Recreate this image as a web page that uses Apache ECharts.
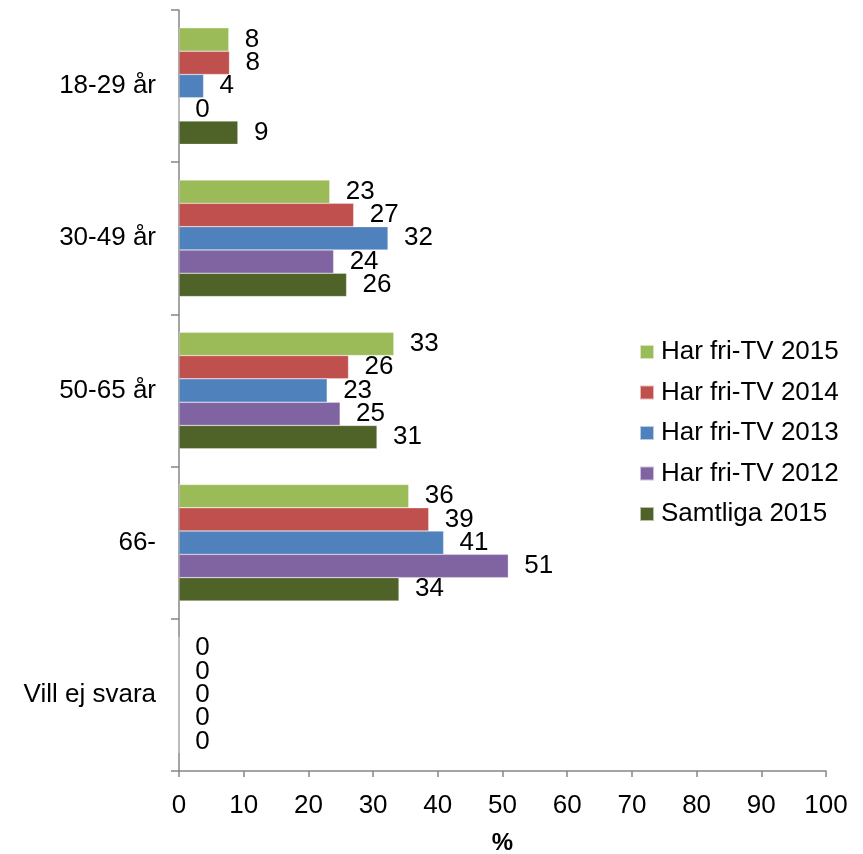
<!DOCTYPE html>
<html>
<head>
<meta charset="utf-8">
<script src="https://cdn.jsdelivr.net/npm/echarts@6/dist/echarts.min.js"></script>
<style>
    html, body { margin: 0; padding: 0; background: #fff; }
    #chart { width: 863px; height: 854px; }
</style>
</head>
<body>
<div id="chart"></div>
<script>
const categories = ['18-29 år', '30-49 år', '50-65 år', '66-', 'Vill ej svara']
const seriesNames = ['Har fri-TV 2015', 'Har fri-TV 2014', 'Har fri-TV 2013', 'Har fri-TV 2012', 'Samtliga 2015']
const fri2015 = [7.7, 23.3, 33.2, 35.5, 0]
const fri2014 = [7.8, 27.0, 26.2, 38.6, 0]
const fri2013 = [3.8, 32.3, 22.9, 40.9, 0]
const fri2012 = [0, 23.9, 24.9, 50.9, 0]
const samtliga2015 = [9.1, 25.9, 30.6, 34.0, 0]
const colors = ['#9BBB59', '#C0504D', '#4F81BD', '#8064A2', '#4F6228']

const font = 'Liberation Sans, Arial, sans-serif'
const fs = 26

const chart = echarts.init(document.querySelector('#chart'))

const makeSeries = (name, data, i) => ({
    name,
    type: 'bar',
    data,
    barWidth: 23.3,
    barGap: '0%',
    itemStyle: { color: colors[i], borderColor: 'rgba(255,255,255,0.6)', borderWidth: 0.5 },
    label: {
        show: true,
        position: 'right',
        distance: 16,
        color: '#000',
        fontSize: fs,
        fontFamily: font,
        formatter: p => Math.round(p.value)
    }
})

const option = {
    backgroundColor: '#fff',
    animation: false,
    grid: { left: 179, right: 37, top: 10, bottom: 83, outerBoundsMode: 'none' },
    legend: {
        orient: 'vertical',
        left: 639,
        top: 339,
        padding: 0,
        itemWidth: 14,
        itemHeight: 14,
        itemGap: 14.5,
        icon: 'rect',
        textStyle: { color: '#000', fontSize: fs, fontFamily: font, lineHeight: 26, padding: [0, 0, 0, 2] },
        data: seriesNames
    },
    xAxis: {
        type: 'value',
        min: 0,
        max: 100,
        interval: 10,
        name: '%',
        nameLocation: 'middle',
        nameGap: 60,
        nameTextStyle: { color: '#000', fontSize: 24, fontWeight: 'bold', fontFamily: font },
        axisLine: { show: true, lineStyle: { color: '#868686', width: 1.5 } },
        axisTick: { show: true, length: 6, lineStyle: { color: '#868686', width: 1.5 } },
        axisLabel: { color: '#000', fontSize: fs, fontFamily: font, margin: 22 },
        splitLine: { show: false }
    },
    yAxis: {
        type: 'category',
        inverse: true,
        data: categories,
        axisLine: { show: true, lineStyle: { color: '#868686', width: 1.5 } },
        axisTick: { show: true, length: 8, lineStyle: { color: '#868686', width: 1.5 } },
        axisLabel: { color: '#000', fontSize: fs, fontFamily: font, margin: 23 }
    },
    series: [
        makeSeries(seriesNames[0], fri2015, 0),
        makeSeries(seriesNames[1], fri2014, 1),
        makeSeries(seriesNames[2], fri2013, 2),
        makeSeries(seriesNames[3], fri2012, 3),
        makeSeries(seriesNames[4], samtliga2015, 4)
    ]
}

chart.setOption(option)
</script>
</body>
</html>
